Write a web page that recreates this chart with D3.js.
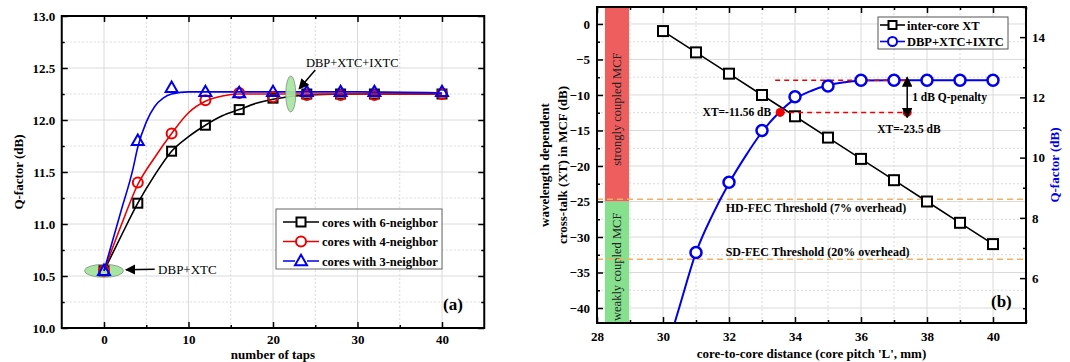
<!doctype html>
<meta charset="utf-8">
<head>
<script src="https://d3js.org/d3.v7.min.js"></script>
<style>
  body { margin: 0; background: #fff; }
  text { font-family: "Liberation Serif", "Times New Roman", serif; }
</style>
</head>
<body>
<svg width="1070" height="362"></svg>
<script>
    // ---------- panel (a) data ----------
    let taps = [0, 4, 8, 12, 16, 20, 24, 28, 32, 40];
    let q6 = [10.55, 11.2, 11.7, 11.95, 12.1, 12.21, 12.25, 12.25, 12.25, 12.25];
    let q4 = [10.55, 11.4, 11.87, 12.19, 12.26, 12.22, 12.24, 12.24, 12.24, 12.25];
    let q3 = [10.55, 11.8, 12.31, 12.27, 12.26, 12.27, 12.27, 12.27, 12.27, 12.27];
    // fitted curves
    let fit6x = [0, 2, 4, 6, 8, 10, 12, 14, 16, 18, 20, 24, 30, 40];
    let fit6y = [10.55, 10.88, 11.2, 11.47, 11.7, 11.84, 11.95, 12.04, 12.1, 12.16, 12.2, 12.24, 12.25, 12.25];
    let fit4x = [0, 2, 4, 6, 8, 10, 12, 14, 16, 20, 30, 40];
    let fit4y = [10.55, 10.98, 11.38, 11.64, 11.87, 12.07, 12.18, 12.23, 12.25, 12.25, 12.25, 12.25];
    let fit3x = [0, 2, 3.4, 4, 5, 6, 7, 8, 10, 20, 30, 40];
    let fit3y = [10.55, 11.12, 11.52, 11.74, 11.98, 12.13, 12.21, 12.25, 12.27, 12.27, 12.27, 12.26];
    let legendA = ["cores with 6-neighbor", "cores with 4-neighbor", "cores with 3-neighbor"];
    let tapTicks = [0, 10, 20, 30, 40];
    let tapMinor = [5, 15, 25, 35];
    let qTicksA = [10.0, 10.5, 11.0, 11.5, 12.0, 12.5, 13.0];
    let qMinorA = [10.25, 10.75, 11.25, 11.75, 12.25, 12.75];

    // ---------- panel (b) data ----------
    let pitch = [30, 31, 32, 33, 34, 35, 36, 37, 38, 39, 40];
    let xt = [-1, -4, -7, -10, -13, -16, -19, -22, -25, -28, -31];
    let qPitch = [31, 32, 33, 34, 35, 36, 37, 38, 39, 40];
    let qB = [6.85, 9.18, 10.9, 12.02, 12.38, 12.57, 12.57, 12.57, 12.57, 12.57];
    let fitBx = [30.2, 30.5, 31, 31.5, 32, 32.5, 33, 33.5, 34, 34.5, 35, 35.5, 36, 37, 40];
    let fitBy = [3.95, 5.05, 6.85, 8.1, 9.15, 10.05, 10.85, 11.48, 11.95, 12.22, 12.4, 12.5, 12.56, 12.57, 12.57];
    let hdFec = 8.62, sdFec = 6.63;      // Q thresholds (dB)
    let qTop = 12.57, qPen = 11.5;       // 1 dB penalty levels
    let xtPoint1 = 33.55, xtPoint2 = 37.4;
    let pitchTicks = [28, 30, 32, 34, 36, 38, 40];
    let pitchMinor = [29, 31, 33, 35, 37, 39, 41];
    let xtTicks = [0, -5, -10, -15, -20, -25, -30, -35, -40];
    let xtMinor = [2.5, -2.5, -7.5, -12.5, -17.5, -22.5, -27.5, -32.5, -37.5];
    let qTicksB = [6, 8, 10, 12, 14];
    let qMinorB = [5, 7, 9, 11, 13, 15];

    let svg = d3.select("svg");
    let defs = svg.append("defs");
    defs.append("marker").attr("id", "arr")
        .attr("viewBox", "0 0 10 10").attr("refX", 9).attr("refY", 5)
        .attr("markerWidth", 7).attr("markerHeight", 7).attr("orient", "auto-start-reverse")
        .append("path").attr("d", "M0,0 L10,5 L0,10 z").attr("fill", "black");

    function grid(g, x, y, xs, xm, ys, ym) {
        let [x0, x1] = x.range(), [y0, y1] = y.range();
        g.selectAll(".vg").data(xs.concat(xm)).enter().append("line")
            .attr("x1", d => x(d)).attr("x2", d => x(d)).attr("y1", y0).attr("y2", y1)
            .attr("stroke", "#dadada").attr("stroke-width", 1)
            .attr("stroke-dasharray", (d, i) => i < xs.length ? null : "2,2");
        g.selectAll(".hg").data(ys.concat(ym)).enter().append("line")
            .attr("y1", d => y(d)).attr("y2", d => y(d)).attr("x1", x0).attr("x2", x1)
            .attr("stroke", "#dadada").attr("stroke-width", 1)
            .attr("stroke-dasharray", (d, i) => i < ys.length ? null : "2,2");
    }

    function axis(g, gen, ty, tx, pad, fmt) {
        let a = g.append("g").attr("transform", `translate(${tx},${ty})`)
            .call(gen.tickSize(-6).tickPadding(pad).tickFormat(fmt));
        a.select(".domain").remove();
        a.selectAll("line").attr("stroke-width", 1.5);
        a.selectAll("text").attr("font-size", 13).attr("font-weight", "bold")
            .attr("font-family", "Liberation Serif, serif").attr("fill", "black");
        return a;
    }
    function minor(g, gen, ty, tx) {
        let a = g.append("g").attr("transform", `translate(${tx},${ty})`)
            .call(gen.tickSize(-3).tickFormat(""));
        a.select(".domain").remove();
        a.selectAll("line").attr("stroke-width", 1.5);
    }

    function square(g, cx, cy, s, col, fill) {
        g.append("rect").attr("x", cx - s / 2).attr("y", cy - s / 2)
            .attr("width", s).attr("height", s)
            .attr("fill", fill).attr("stroke", col).attr("stroke-width", 2);
    }
    function circ(g, cx, cy, r, col, sw) {
        g.append("circle").attr("cx", cx).attr("cy", cy).attr("r", r)
            .attr("fill", "white").attr("stroke", col).attr("stroke-width", sw);
    }
    function tri(g, cx, cy, s, col) {
        let h = s * 0.87;
        g.append("path")
            .attr("d", `M${cx},${cy - h * 0.6} L${cx + s / 2},${cy + h * 0.4} L${cx - s / 2},${cy + h * 0.4} Z`)
            .attr("fill", "none").attr("stroke", col).attr("stroke-width", 2);
    }

    //
    // Panel (a)
    //
    let xa = d3.scaleLinear().domain([-5, 45]).range([61.75, 484.25]);
    let ya = d3.scaleLinear().domain([10, 13]).range([328, 16]);
    let ga = svg.append("g");
    grid(ga, xa, ya, tapTicks, tapMinor, qTicksA.slice(1, -1), qMinorA);

    // ellipse behind first point
    ga.append("ellipse").attr("cx", xa(0)).attr("cy", ya(10.55)).attr("rx", 19.5).attr("ry", 6.5)
        .attr("fill", "#a6e6a0").attr("stroke", "#8a8a8a").attr("stroke-width", 0.8);

    let fits = [[fit6x, fit6y, "black"], [fit4x, fit4y, "#ee0000"], [fit3x, fit3y, "#0000ee"]];
    fits.forEach(([fx, fy, col]) => {
        ga.append("path")
            .attr("d", d3.line().curve(d3.curveMonotoneX)
                .x((d, i) => xa(fx[i])).y(d => ya(d))(fy))
            .attr("fill", "none").attr("stroke", col).attr("stroke-width", 1.6);
    });
    taps.forEach((t, i) => square(ga, xa(t), ya(q6[i]), 9, "black", "none"));
    taps.forEach((t, i) => circ(ga, xa(t), ya(q4[i]), 5, "#ee0000", 2));
    ga.selectAll("circle").attr("fill", "none");
    taps.forEach((t, i) => tri(ga, xa(t), ya(q3[i]), 12, "#0000ee"));

    // second ellipse + annotations
    ga.append("ellipse").attr("cx", xa(22.1)).attr("cy", ya(12.25)).attr("rx", 5).attr("ry", 18)
        .attr("fill", "#a6e6a0").attr("fill-opacity", 0.92).attr("stroke", "#8a8a8a").attr("stroke-width", 0.8);
    ga.append("line").attr("x1", xa(6.0)).attr("y1", ya(10.565)).attr("x2", xa(2.6)).attr("y2", ya(10.56))
        .attr("stroke", "black").attr("stroke-width", 1.5).attr("marker-end", "url(#arr)");
    ga.append("text").attr("x", xa(6.4)).attr("y", ya(10.52)).attr("font-size", 13).text("DBP+XTC");
    ga.append("line").attr("x1", xa(25.0)).attr("y1", ya(12.48)).attr("x2", xa(23.1)).attr("y2", ya(12.3))
        .attr("stroke", "black").attr("stroke-width", 1.5).attr("marker-end", "url(#arr)");
    ga.append("text").attr("x", xa(23.9)).attr("y", ya(12.51)).attr("font-size", 12.5).text("DBP+XTC+IXTC");

    // axes
    axis(ga, d3.axisBottom(xa).tickValues(tapTicks), ya(10), 0, 6.5, d3.format("d"));
    minor(ga, d3.axisBottom(xa).tickValues(tapMinor), ya(10), 0);
    axis(ga, d3.axisTop(xa).tickValues(tapTicks), ya(13), 0, 9, () => "");
    minor(ga, d3.axisTop(xa).tickValues(tapMinor), ya(13), 0);
    axis(ga, d3.axisLeft(ya).tickValues(qTicksA), 0, xa(-5), 6.5, d3.format(".1f"));
    minor(ga, d3.axisLeft(ya).tickValues(qMinorA), 0, xa(-5));
    axis(ga, d3.axisRight(ya).tickValues(qTicksA), 0, xa(45), 6, () => "");
    minor(ga, d3.axisRight(ya).tickValues(qMinorA), 0, xa(45));
    ga.append("rect").attr("x", xa(-5)).attr("y", ya(13))
        .attr("width", xa(45) - xa(-5)).attr("height", ya(10) - ya(13))
        .attr("fill", "none").attr("stroke", "black").attr("stroke-width", 2);

    ga.append("text").attr("x", (xa(-5) + xa(45)) / 2).attr("y", 359)
        .attr("text-anchor", "middle").attr("font-size", 13).attr("font-weight", "bold").text("number of taps");
    ga.append("text").attr("transform", `translate(23,${(ya(10) + ya(13)) / 2}) rotate(-90)`)
        .attr("text-anchor", "middle").attr("font-size", 13).attr("font-weight", "bold").text("Q-factor (dB)");
    ga.append("text").attr("x", 443).attr("y", 310).attr("font-size", 17).attr("font-weight", "bold").text("(a)");

    // legend (a)
    let la = ga.append("g");
    la.append("rect").attr("x", 276).attr("y", 209).attr("width", 166).attr("height", 60)
        .attr("fill", "white").attr("stroke", "#666").attr("stroke-width", 1);
    let legCols = ["black", "#ee0000", "#0000ee"];
    legendA.forEach((name, i) => {
        let yy = 222 + i * 19.5;
        la.append("line").attr("x1", 283).attr("x2", 319).attr("y1", yy).attr("y2", yy)
            .attr("stroke", legCols[i]).attr("stroke-width", 1.6);
        if (i === 0) square(la, 301, yy, 9, "black", "white");
        if (i === 1) circ(la, 301, yy, 5, "#ee0000", 2);
        if (i === 2) { la.append("rect").attr("x", 295).attr("y", yy - 6).attr("width", 12).attr("height", 10).attr("fill", "white");
                       tri(la, 301, yy, 12, "#0000ee"); }
        la.append("text").attr("x", 322).attr("y", yy + 4.5).attr("font-size", 12.5)
            .attr("font-weight", "bold").text(name);
    });

    //
    // Panel (b)
    //
    let xb = d3.scaleLinear().domain([28, 41]).range([597, 1026]);
    let yb = d3.scaleLinear().domain([-42.11, 2.39]).range([323, 7]);
    let qb = d3.scaleLinear().domain([4.51, 15]).range([323, 7]);
    let gb = svg.append("g");
    grid(gb, xb, yb, pitchTicks.slice(1), pitchMinor.slice(0, -1), xtTicks, xtMinor.slice(1));

    // coupling regions
    gb.append("rect").attr("x", xb(28.24)).attr("y", yb(2.39))
        .attr("width", xb(28.97) - xb(28.24)).attr("height", yb(-25) - yb(2.39)).attr("fill", "#ef5e5e");
    gb.append("rect").attr("x", xb(28.24)).attr("y", yb(-25))
        .attr("width", xb(28.97) - xb(28.24)).attr("height", yb(-42.11) - yb(-25)).attr("fill", "#86e08e");
    gb.append("text").attr("transform", `translate(${xb(28.6) + 4},${yb(-12)}) rotate(-90)`)
        .attr("text-anchor", "middle").attr("font-size", 12.5).attr("fill", "#222").text("strongly coupled MCF");
    gb.append("text").attr("transform", `translate(${xb(28.6) + 4},${yb(-34.2)}) rotate(-90)`)
        .attr("text-anchor", "middle").attr("font-size", 12.5).attr("fill", "#222").text("weakly coupled MCF");

    // FEC thresholds
    [[hdFec, "HD-FEC Threshold (7% overhead)", 13], [sdFec, "SD-FEC Threshold (20% overhead)", -3]].forEach(([q, label, dy]) => {
        gb.append("line").attr("x1", xb(28)).attr("x2", xb(41)).attr("y1", qb(q)).attr("y2", qb(q))
            .attr("stroke", "#f2b060").attr("stroke-width", 1.5).attr("stroke-dasharray", "6,4");
        gb.append("text").attr("x", xb(31.9)).attr("y", qb(q) + dy).attr("font-size", 12)
            .attr("font-weight", "bold").text(label);
    });

    // XT line
    gb.append("path").attr("d", d3.line().x((d, i) => xb(pitch[i])).y(d => yb(d))(xt))
        .attr("fill", "none").attr("stroke", "black").attr("stroke-width", 1.6);
    pitch.forEach((p, i) => square(gb, xb(p), yb(xt[i]), 10, "black", "white"));

    // Q curve (clipped)
    defs.append("clipPath").attr("id", "clipb").append("rect")
        .attr("x", xb(28)).attr("y", yb(2.39)).attr("width", xb(41) - xb(28)).attr("height", yb(-42.11) - yb(2.39));
    gb.append("path").attr("clip-path", "url(#clipb)")
        .attr("d", d3.line().curve(d3.curveMonotoneX).x((d, i) => xb(fitBx[i])).y(d => qb(d))(fitBy))
        .attr("fill", "none").attr("stroke", "#0000ee").attr("stroke-width", 2);

    // penalty lines
    gb.append("line").attr("x1", xb(33.4)).attr("x2", xb(xtPoint2)).attr("y1", qb(qTop)).attr("y2", qb(qTop))
        .attr("stroke", "#ee0000").attr("stroke-width", 1.5).attr("stroke-dasharray", "5,4");
    gb.append("line").attr("x1", xb(xtPoint1)).attr("x2", xb(xtPoint2)).attr("y1", qb(qPen)).attr("y2", qb(qPen))
        .attr("stroke", "#ee0000").attr("stroke-width", 1.5).attr("stroke-dasharray", "5,4");
    qPitch.forEach((p, i) => circ(gb, xb(p), qb(qB[i]), 5.5, "#0000ee", 2.5));
    [xtPoint1, xtPoint2].forEach(p => gb.append("circle").attr("cx", xb(p)).attr("cy", qb(qPen)).attr("r", 4.5).attr("fill", "#ee0000"));
    gb.append("line").attr("x1", xb(xtPoint2)).attr("x2", xb(xtPoint2)).attr("y1", qb(qTop) - 3).attr("y2", qb(qPen) + 5)
        .attr("stroke", "black").attr("stroke-width", 1.5)
        .attr("marker-start", "url(#arr)").attr("marker-end", "url(#arr)");
    gb.append("text").attr("x", xb(xtPoint2) + 5).attr("y", qb(12.0) + 4).attr("font-size", 11.5)
        .attr("font-weight", "bold").text("1 dB Q-penalty");
    gb.append("text").attr("x", xb(xtPoint2) - 30).attr("y", qb(qPen) + 21).attr("font-size", 11.5)
        .attr("font-weight", "bold").text("XT=-23.5 dB");
    gb.append("text").attr("x", xb(xtPoint1) - 9).attr("y", qb(qPen) + 4).attr("text-anchor", "end")
        .attr("font-size", 11.5).attr("font-weight", "bold").text("XT=-11.56 dB");

    // axes
    axis(gb, d3.axisBottom(xb).tickValues(pitchTicks), yb(-42.11), 0, 9, d3.format("d"));
    minor(gb, d3.axisBottom(xb).tickValues(pitchMinor), yb(-42.11), 0);
    axis(gb, d3.axisTop(xb).tickValues(pitchTicks), yb(2.39), 0, 9, () => "");
    minor(gb, d3.axisTop(xb).tickValues(pitchMinor), yb(2.39), 0);
    axis(gb, d3.axisLeft(yb).tickValues(xtTicks), 0, xb(28), 7, d3.format("d"));
    minor(gb, d3.axisLeft(yb).tickValues(xtMinor), 0, xb(28));
    axis(gb, d3.axisRight(qb).tickValues(qTicksB), 0, xb(41), 6, d3.format("d"));
    minor(gb, d3.axisRight(qb).tickValues(qMinorB), 0, xb(41));
    gb.append("rect").attr("x", xb(28)).attr("y", yb(2.39))
        .attr("width", xb(41) - xb(28)).attr("height", yb(-42.11) - yb(2.39))
        .attr("fill", "none").attr("stroke", "black").attr("stroke-width", 2);

    gb.append("text").attr("x", (xb(28) + xb(41)) / 2).attr("y", 358)
        .attr("text-anchor", "middle").attr("font-size", 13).attr("font-weight", "bold")
        .text("core-to-core distance (core pitch 'L', mm)");
    let ymid = (yb(2.39) + yb(-42.11)) / 2;
    gb.append("text").attr("transform", `translate(549,${ymid}) rotate(-90)`)
        .attr("text-anchor", "middle").attr("font-size", 13).attr("font-weight", "bold").text("wavelength dependent");
    gb.append("text").attr("transform", `translate(567,${ymid}) rotate(-90)`)
        .attr("text-anchor", "middle").attr("font-size", 13).attr("font-weight", "bold").text("cross-talk (XT) in MCF (dB)");
    gb.append("text").attr("transform", `translate(1059,${ymid}) rotate(-90)`)
        .attr("text-anchor", "middle").attr("font-size", 13).attr("font-weight", "bold")
        .attr("fill", "#0000ee").text("Q-factor (dB)");
    gb.append("text").attr("x", 991).attr("y", 307).attr("font-size", 17).attr("font-weight", "bold").text("(b)");

    // legend (b)
    let lb = gb.append("g");
    lb.append("rect").attr("x", 878).attr("y", 17).attr("width", 130).attr("height", 32)
        .attr("fill", "white").attr("stroke", "#555").attr("stroke-width", 1);
    [["inter-core XT", "black"], ["DBP+XTC+IXTC", "#0000ee"]].forEach(([name, col], i) => {
        let yy = 25 + i * 16.5;
        lb.append("line").attr("x1", 880).attr("x2", 905).attr("y1", yy).attr("y2", yy)
            .attr("stroke", col).attr("stroke-width", 1.6);
        if (i === 0) square(lb, 892.5, yy, 8, "black", "white");
        else circ(lb, 892.5, yy, 4.5, col, 2);
        lb.append("text").attr("x", 907).attr("y", yy + 4.5).attr("font-size", 12.5)
            .attr("font-weight", "bold").text(name);
    });
</script>
</body>
